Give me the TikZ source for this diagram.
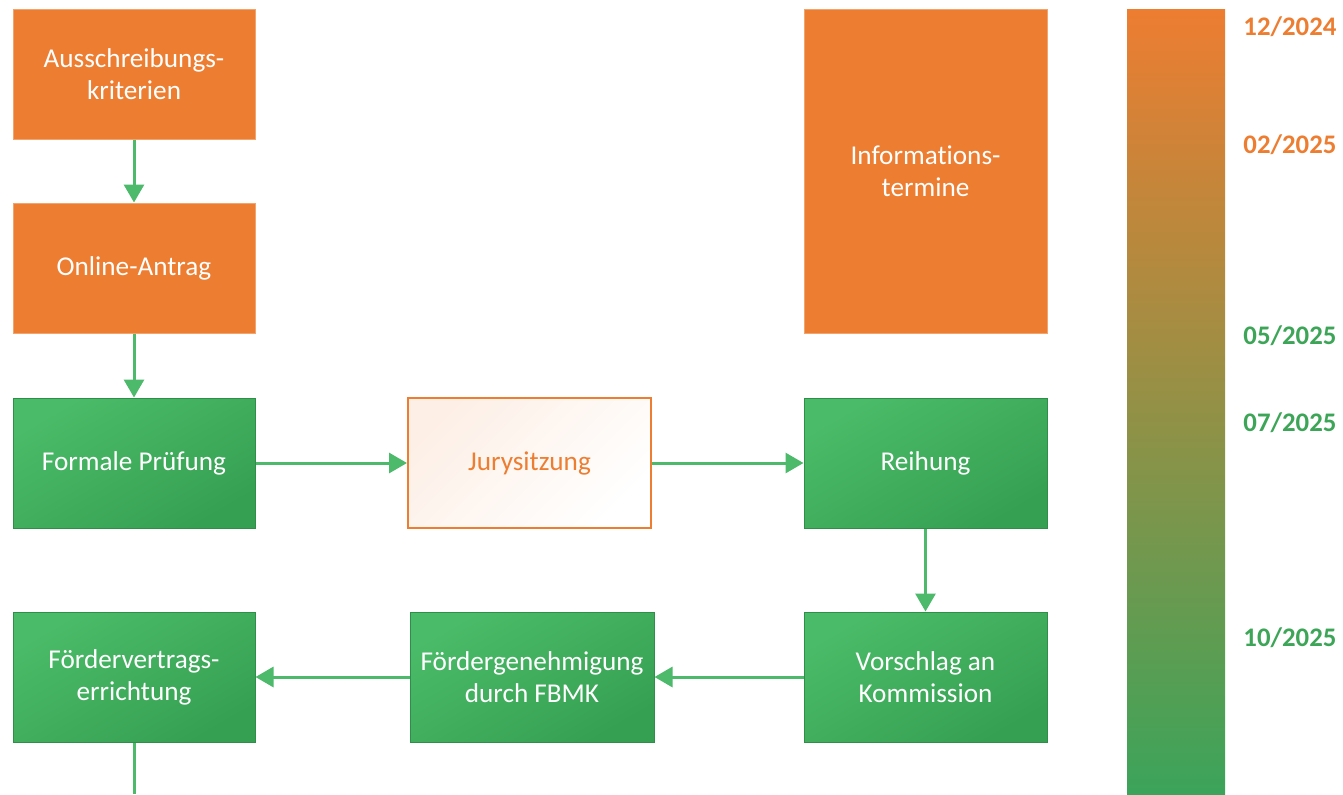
\documentclass[tikz,border=0pt]{standalone}
\usepackage{fontspec}
\setmainfont{Carlito}[Ligatures=NoCommon]
\usetikzlibrary{arrows.meta}
\definecolor{orng}{HTML}{ED7D31}
\definecolor{grnA}{HTML}{4ABB68}
\definecolor{grnB}{HTML}{36A052}
\definecolor{grnEdge}{HTML}{2E8F48}
\definecolor{arr}{HTML}{4CB96B}
\definecolor{lblg}{HTML}{3DA557}
\definecolor{barbot}{HTML}{3BA45A}
\tikzset{
  txt/.style={font=\fontsize{13.6}{16}\selectfont, align=center},
  obox/.style={txt, fill=orng, draw=orng!70!white, line width=0.5pt, text=white, inner sep=0pt, minimum width=121pt, minimum height=65pt},
  gbox/.style={txt, top color=grnA, bottom color=grnB, shading angle=30, draw=grnEdge, line width=0.5pt, text=white, inner sep=0pt, minimum width=121pt, minimum height=65pt},
  jbox/.style={txt, top color=orng!12, bottom color=white, shading angle=45, draw=orng, line width=1pt, text=orng, inner sep=0pt, minimum width=121pt, minimum height=65pt},
  flow/.style={draw=arr, line width=1.5pt, -{Triangle[width=10pt,length=9pt]}},
  datel/.style={font=\fontsize{13.4}{16}\selectfont\bfseries, anchor=west, inner sep=0pt}
}
\begin{document}
\begin{tikzpicture}[x=0.5pt,y=-0.5pt]
\useasboundingbox (0,0) rectangle (1343,794);
\node[obox] (aus) at (134,74) {Ausschreibungs-\\kriterien};
\node[obox] (onl) at (134,268) {Online-Antrag};
\node[gbox] (form) at (134,463) {Formale Prüfung};
\node[jbox, minimum width=121.5pt] (jury) at (529.5,463) {Jurysitzung};
\node[gbox, minimum width=121.5pt] (reih) at (925.5,463) {Reihung};
\node[obox, minimum width=121.5pt, minimum height=162pt] (info) at (925.5,171) {Informations-\\termine};
\node[gbox] (fvert) at (134,677) {Fördervertrags-\\errichtung};
\node[gbox, minimum width=122pt] (fgen) at (532,677) {Fördergenehmigung\\durch FBMK};
\node[gbox, minimum width=121.5pt] (vor) at (925.5,677) {Vorschlag an\\Kommission};
\coordinate (bend) at (134,794);
\draw[flow] (aus) -- (onl);
\draw[flow] (onl) -- (form);
\draw[flow] (form) -- (jury);
\draw[flow] (jury) -- (reih);
\draw[flow] (reih) -- (vor);
\draw[flow] (vor) -- (fgen);
\draw[flow] (fgen) -- (fvert);
\draw[draw=arr, line width=1.5pt] (fvert) -- (bend);
\node[top color=orng, bottom color=barbot, middle color=orng!50!barbot, draw=none, minimum width=49pt, minimum height=392.5pt, inner sep=0pt] (bar) at (1176,401.5) {};
\node[datel, text=orng] (d1) at (1243,27) {12/2024};
\node[datel, text=orng] (d2) at (1243,145) {02/2025};
\node[datel, text=lblg] (d3) at (1243,336) {05/2025};
\node[datel, text=lblg] (d4) at (1243,423) {07/2025};
\node[datel, text=lblg] (d5) at (1243,638) {10/2025};
\end{tikzpicture}
\end{document}
